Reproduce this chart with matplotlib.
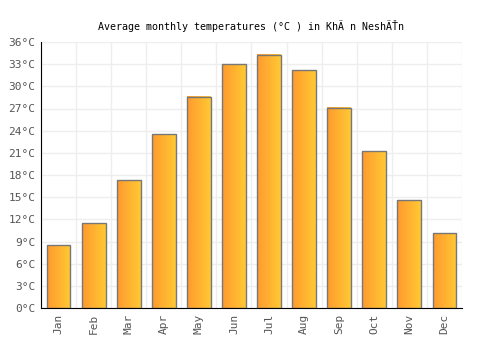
import matplotlib
matplotlib.use("Agg")
import matplotlib.pyplot as plt
import numpy as np
from matplotlib.colors import LinearSegmentedColormap

months = ["Jan", "Feb", "Mar", "Apr", "May", "Jun", "Jul", "Aug", "Sep", "Oct", "Nov", "Dec"]
temps = [8.5, 11.5, 17.3, 23.5, 28.6, 33.0, 34.3, 32.2, 27.1, 21.2, 14.6, 10.1]
yticks = list(range(0, 37, 3))
title = "Average monthly temperatures (°C ) in KhÄ n NeshÄŤn"

plt.rcParams['font.family'] = ['DejaVu Sans Mono']

fig = plt.figure(figsize=(5, 3.5), dpi=100)
ax = fig.add_axes([0.082, 0.12, 0.842, 0.76])

cmap = LinearSegmentedColormap.from_list("g", ["#ff9a2e", "#ffc934"])
grad = np.linspace(0, 1, 64).reshape(1, -1)
width = 0.68
x = np.arange(len(months))
bars = ax.bar(x, temps, width=width, facecolor="none", edgecolor="#777777", linewidth=1, zorder=3)
for rect in bars:
    x0 = rect.get_x(); w = rect.get_width(); h = rect.get_height()
    ax.imshow(grad, cmap=cmap, extent=(x0, x0 + w, 0, h), aspect="auto", zorder=2, interpolation="bilinear")

ax.set_xlim(-0.5, len(months) - 0.5)
ax.set_ylim(0, 36)
ax.set_yticks(yticks)
ax.set_yticklabels([f"{t}°C" for t in yticks])
ax.set_xticks(x)
ax.set_xticklabels(months, rotation=90)
ax.set_xticks(np.arange(-0.5, len(months), 1), minor=True)
ax.grid(True, axis="y", color="#eeeeee", linewidth=1, zorder=0)
ax.grid(True, axis="x", which="minor", color="#eeeeee", linewidth=1, zorder=0)
ax.grid(False, axis="x", which="major")
ax.tick_params(axis="both", which="both", length=0, labelsize=8, colors="#555555", pad=4)
for s in ["top", "right"]:
    ax.spines[s].set_visible(False)
ax.spines["left"].set_color("black")
ax.spines["bottom"].set_color("black")
ax.set_title(title, fontsize=7.2, color="black", pad=9)

fig.savefig("out.png", dpi=100)
